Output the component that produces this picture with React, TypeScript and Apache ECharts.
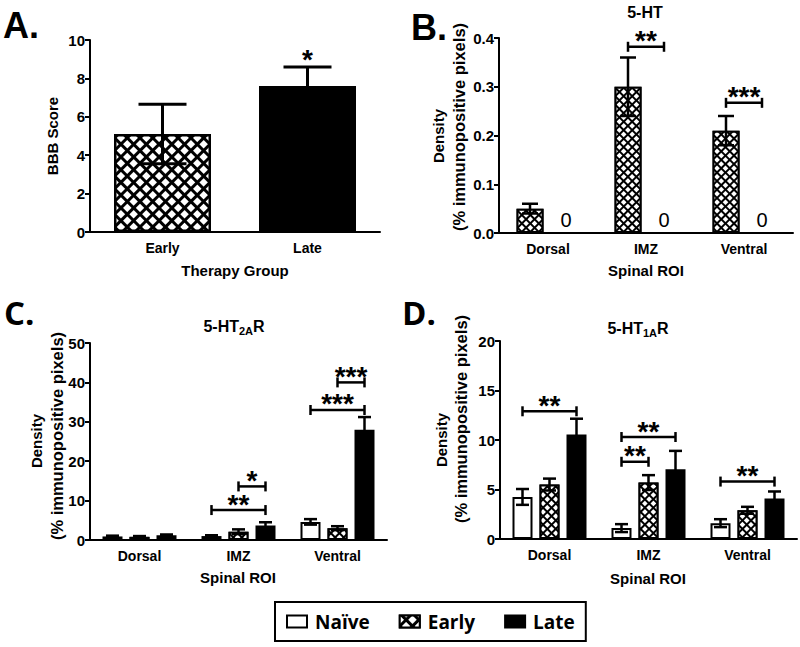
import React, { useEffect, useRef } from 'react';
import * as echarts from 'echarts';

// ---------- data ----------
const A_CATS = ['Early', 'Late'];
const A_EARLY = [5.1, '-'];
const A_LATE = ['-', 7.6];
const A_MEAN = [5.1, 7.6];
const A_SD = [1.55, 1.0];
const A_SIG: any[] = [[1, 0, 0, 9.0, '*']];

const ROI = ['Dorsal', 'IMZ', 'Ventral'];

const B_EARLY = [0.05, 0.3, 0.21];
const B_EARLY_SD = [0.01, 0.06, 0.03];
const B_LATE = [0, 0, 0];
const B_SIG: any[] = [
  [1, 0, 1, 0.382, '**'],
  [2, 0, 1, 0.267, '***'],
];

const C_NAIVE = [0.9, 1.0, 4.6];
const C_NAIVE_SD = [0.2, 0.2, 0.7];
const C_EARLY = [0.8, 2.1, 3.0];
const C_EARLY_SD = [0.2, 0.6, 0.5];
const C_LATE = [1.2, 3.7, 28.0];
const C_LATE_SD = [0.2, 0.8, 3.2];
const C_SIG: any[] = [
  [1, 1, 2, 13.6, '*'],
  [1, 0, 2, 7.6, '**'],
  [2, 0, 2, 33, '***'],
  [2, 1, 2, 40, '***'],
];

const D_NAIVE = [4.25, 1.1, 1.6];
const D_NAIVE_SD = [0.8, 0.4, 0.4];
const D_EARLY = [5.5, 5.7, 2.9];
const D_EARLY_SD = [0.6, 0.75, 0.35];
const D_LATE = [10.55, 7.05, 4.1];
const D_LATE_SD = [1.6, 1.85, 0.7];
const D_SIG: any[] = [
  [0, 0, 2, 12.9, '**'],
  [1, 0, 2, 10.3, '**'],
  [1, 0, 1, 7.8, '**'],
  [2, 0, 2, 5.8, '**'],
];

const LEGEND_NAMES = ['Naïve', 'Early', 'Late'];

// ---------- styles ----------
const FONT = 'Liberation Sans, Arial, sans-serif';
const FONT2 = 'Open Sans, Liberation Sans, sans-serif';
const HATCH = {
  symbol: 'rect',
  symbolSize: 1,
  color: '#ffffff',
  dashArrayX: [4, 2],
  dashArrayY: [4, 2],
  rotation: Math.PI / 4,
};
const HATCH_BIG = { ...HATCH, dashArrayX: [6, 2.5], dashArrayY: [6, 2.5] };

const naiveStyle = { color: '#ffffff', borderColor: '#000', borderWidth: 2 };
const earlyStyle = { color: '#000', borderColor: '#000', borderWidth: 2, decal: HATCH };
const lateStyle = { color: '#000', borderColor: '#000', borderWidth: 2 };

function errData(means: number[][], sds: number[][]) {
  const out: number[][] = [];
  means.forEach((arr, s) => {
    arr.forEach((m, i) => {
      if (typeof m === 'number' && sds[s][i] > 0) out.push([i, s, m, sds[s][i]]);
    });
  });
  return out;
}

function errorSeries(idx: number, data: number[][], offsets: number[], cap: number, lw: number) {
  return {
    type: 'custom',
    xAxisIndex: idx,
    yAxisIndex: idx,
    z: 5,
    encode: { x: 0, y: 2 },
    data,
    renderItem: (_p: any, api: any) => {
      const cat = api.value(0);
      const si = api.value(1);
      const m = api.value(2);
      const sd = api.value(3);
      const hi = api.coord([cat, m + sd]);
      const lo = api.coord([cat, m - sd]);
      const x = hi[0] + offsets[si];
      const st = { stroke: '#000', lineWidth: lw };
      return {
        type: 'group',
        children: [
          { type: 'line', shape: { x1: x, y1: hi[1], x2: x, y2: lo[1] }, style: st },
          { type: 'line', shape: { x1: x - cap, y1: hi[1], x2: x + cap, y2: hi[1] }, style: st },
          { type: 'line', shape: { x1: x - cap, y1: lo[1], x2: x + cap, y2: lo[1] }, style: st },
        ],
      };
    },
  };
}

function sigSeries(idx: number, sig: any[], offsets: number[]) {
  return {
    type: 'custom',
    xAxisIndex: idx,
    yAxisIndex: idx,
    z: 6,
    encode: { x: 0, y: 3 },
    data: sig.map((s) => [s[0], s[1], s[2], s[3]]),
    renderItem: (params: any, api: any) => {
      const cat = api.value(0);
      const s1 = api.value(1);
      const s2 = api.value(2);
      const y = api.value(3);
      const p = api.coord([cat, y]);
      const x1 = p[0] + offsets[s1];
      const x2 = p[0] + offsets[s2];
      const label = sig[params.dataIndex][4];
      const st = { stroke: '#000', lineWidth: 2.5 };
      const children: any[] = [];
      if (s1 !== s2) {
        children.push({ type: 'line', shape: { x1, y1: p[1], x2, y2: p[1] }, style: st });
        children.push({ type: 'line', shape: { x1, y1: p[1] - 5, x2: x1, y2: p[1] + 5 }, style: st });
        children.push({ type: 'line', shape: { x1: x2, y1: p[1] - 5, x2, y2: p[1] + 5 }, style: st });
      }
      children.push({
        type: 'text',
        style: {
          text: label,
          x: (x1 + x2) / 2,
          y: s1 !== s2 ? p[1] - 6 : p[1],
          align: 'center',
          verticalAlign: 'middle',
          fontFamily: FONT,
          fontWeight: 'bold',
          fontSize: 28,
          lineHeight: 14,
          fill: '#000',
        },
      });
      return { type: 'group', children };
    },
  };
}

function xAxisCfg(idx: number, cats: string[]) {
  return {
    type: 'category',
    gridIndex: idx,
    data: cats,
    axisLine: { lineStyle: { color: '#000', width: 2 } },
    axisTick: { alignWithLabel: true, length: 5, lineStyle: { color: '#000', width: 2 } },
    axisLabel: { color: '#000', fontFamily: FONT, fontWeight: 'bold', fontSize: 14, margin: 9 },
    splitLine: { show: false },
  };
}

function yAxisCfg(idx: number, max: number, interval: number, fmt?: (v: number) => string) {
  return {
    type: 'value',
    gridIndex: idx,
    min: 0,
    max,
    interval,
    axisLine: { show: true, lineStyle: { color: '#000', width: 2 } },
    axisTick: { show: true, length: 5, lineStyle: { color: '#000', width: 2 } },
    axisLabel: {
      color: '#000',
      fontFamily: FONT,
      fontWeight: 'bold',
      fontSize: 15,
      margin: 5,
      formatter: fmt,
    },
    splitLine: { show: false },
  };
}

function txt(x: number, y: number, text: string, size: number, opts: any = {}) {
  return {
    type: 'text',
    x,
    y,
    rotation: opts.rotation || 0,
    style: {
      text,
      fill: '#000',
      fontFamily: opts.family || FONT,
      fontWeight: opts.weight || 'bold',
      fontSize: size,
      align: opts.align || 'center',
      verticalAlign: 'middle',
      rich: opts.rich,
    },
  };
}

const subRich = {
  m: { fontFamily: FONT, fontWeight: 'bold', fontSize: 16, color: '#000' },
  s: { fontFamily: FONT, fontWeight: 'bold', fontSize: 11, color: '#000', padding: [9, 0, 0, 0] },
};

export default function App() {
  const ref = useRef<HTMLDivElement>(null);
  useEffect(() => {
    if (!ref.current) return;
    const chart = echarts.init(ref.current, undefined, { renderer: 'svg' });
    const off2 = [-18, 18];
    const off3 = [-27, 0, 27];
    const option: any = {
      animation: false,
      backgroundColor: '#fff',
      grid: [
        { left: 90, top: 40, width: 290, height: 192 },
        { left: 499, top: 38, width: 294, height: 195 },
        { left: 90, top: 343, width: 297, height: 197 },
        { left: 500, top: 341, width: 297, height: 198 },
      ],
      xAxis: [xAxisCfg(0, A_CATS), xAxisCfg(1, ROI), xAxisCfg(2, ROI), xAxisCfg(3, ROI)],
      yAxis: [
        yAxisCfg(0, 10, 2),
        yAxisCfg(1, 0.4, 0.1, (v: number) => v.toFixed(1)),
        yAxisCfg(2, 50, 10),
        yAxisCfg(3, 20, 5),
      ],
      legend: {
        data: LEGEND_NAMES,
        left: 275,
        top: 602,
        icon: 'rect',
        itemWidth: 20,
        itemHeight: 12,
        itemGap: 29,
        padding: [10, 11, 10, 11],
        borderColor: '#000',
        borderWidth: 2,
        selectedMode: false,
        textStyle: {
          fontFamily: FONT2,
          fontWeight: 'bold',
          fontSize: 19,
          color: '#000',
          padding: [0, 0, 0, 3],
        },
      },
      series: [
        // Panel A
        { type: 'bar', name: 'Early', xAxisIndex: 0, yAxisIndex: 0, data: A_EARLY, barWidth: 97, barGap: '-100%', itemStyle: { ...earlyStyle, borderWidth: 2.5, decal: HATCH_BIG } },
        { type: 'bar', name: 'Late', xAxisIndex: 0, yAxisIndex: 0, data: A_LATE, barWidth: 97, barGap: '-100%', itemStyle: { ...lateStyle, borderWidth: 2.5 } },
        errorSeries(0, A_MEAN.map((m, i) => [i, 0, m, A_SD[i]]), [0], 24, 3),
        sigSeries(0, A_SIG, [0]),
        // Panel B
        { type: 'bar', name: 'Early', xAxisIndex: 1, yAxisIndex: 1, data: B_EARLY, barWidth: 27, barGap: '33%', itemStyle: earlyStyle },
        {
          type: 'bar', name: 'Late', xAxisIndex: 1, yAxisIndex: 1, data: B_LATE, barWidth: 27, barGap: '33%', itemStyle: lateStyle,
          label: { show: true, position: 'top', formatter: '0', fontFamily: FONT, fontSize: 20, color: '#000', distance: 2 },
        },
        errorSeries(1, errData([B_EARLY], [B_EARLY_SD]), off2, 8, 2.5),
        sigSeries(1, B_SIG, off2),
        // Panel C
        { type: 'bar', name: 'Naïve', xAxisIndex: 2, yAxisIndex: 2, data: C_NAIVE, barWidth: 20, barGap: '35%', itemStyle: naiveStyle },
        { type: 'bar', name: 'Early', xAxisIndex: 2, yAxisIndex: 2, data: C_EARLY, barWidth: 20, barGap: '35%', itemStyle: earlyStyle },
        { type: 'bar', name: 'Late', xAxisIndex: 2, yAxisIndex: 2, data: C_LATE, barWidth: 20, barGap: '35%', itemStyle: lateStyle },
        errorSeries(2, errData([C_NAIVE, C_EARLY, C_LATE], [C_NAIVE_SD, C_EARLY_SD, C_LATE_SD]), off3, 6.5, 2.5),
        sigSeries(2, C_SIG, off3),
        // Panel D
        { type: 'bar', name: 'Naïve', xAxisIndex: 3, yAxisIndex: 3, data: D_NAIVE, barWidth: 20, barGap: '35%', itemStyle: naiveStyle },
        { type: 'bar', name: 'Early', xAxisIndex: 3, yAxisIndex: 3, data: D_EARLY, barWidth: 20, barGap: '35%', itemStyle: earlyStyle },
        { type: 'bar', name: 'Late', xAxisIndex: 3, yAxisIndex: 3, data: D_LATE, barWidth: 20, barGap: '35%', itemStyle: lateStyle },
        errorSeries(3, errData([D_NAIVE, D_EARLY, D_LATE], [D_NAIVE_SD, D_EARLY_SD, D_LATE_SD]), off3, 6.5, 2.5),
        sigSeries(3, D_SIG, off3),
      ],
      graphic: [
        txt(3, 25, 'A.', 36, { align: 'left' }),
        txt(411, 27, 'B.', 36, { align: 'left' }),
        txt(4, 312, 'C.', 33, { align: 'left', family: FONT2 }),
        txt(402, 312, 'D.', 33, { align: 'left', family: FONT2 }),
        // titles
        txt(645, 12, '5-HT', 16),
        txt(234, 326, '{m|5-HT}{s|2A}{m|R}', 16, { rich: subRich }),
        txt(638, 328, '{m|5-HT}{s|1A}{m|R}', 16, { rich: subRich }),
        // y names
        txt(52, 136, 'BBB Score', 15, { rotation: Math.PI / 2 }),
        txt(438, 136, 'Density', 15, { rotation: Math.PI / 2 }),
        txt(459, 127, '(% immunopositive pixels)', 16.5, { rotation: Math.PI / 2 }),
        txt(36, 441, 'Density', 15, { rotation: Math.PI / 2 }),
        txt(57, 436, '(% immunopositive pixels)', 16.5, { rotation: Math.PI / 2 }),
        txt(441, 440, 'Density', 15, { rotation: Math.PI / 2 }),
        txt(461, 419, '(% immunopositive pixels)', 16.5, { rotation: Math.PI / 2 }),
        // x names
        txt(235, 270, 'Therapy Group', 15),
        txt(646, 270, 'Spinal ROI', 15),
        txt(238, 577, 'Spinal ROI', 15),
        txt(648, 578, 'Spinal ROI', 15),
      ],
    };
    chart.setOption(option);
    return () => chart.dispose();
  }, []);
  return (
    <div
      ref={ref}
      style={{ position: 'fixed', left: 0, top: 0, width: 800, height: 647, background: '#fff' }}
    />
  );
}
